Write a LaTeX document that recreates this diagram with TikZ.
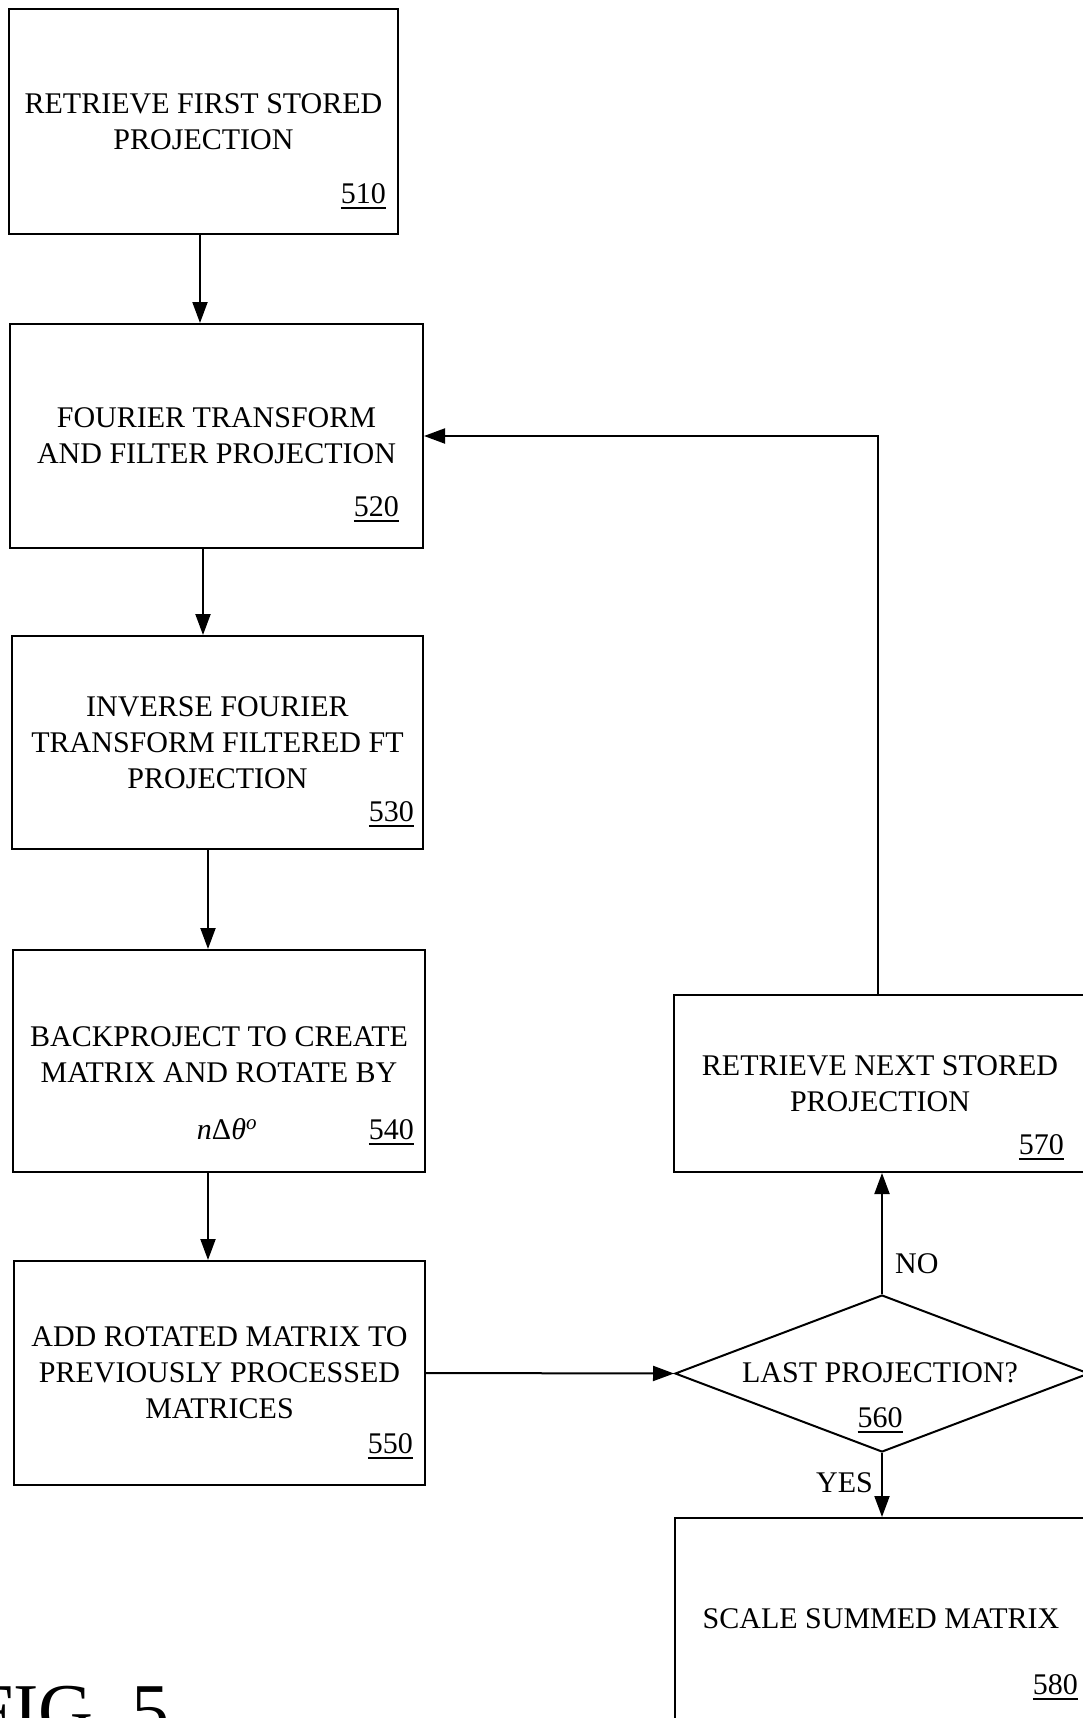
\documentclass[tikz,border=0pt]{standalone}
\usepackage{fontspec}
\setmainfont{Liberation Serif}
\usetikzlibrary{arrows.meta,shapes.geometric}
% reference number with a rule under it
\newcommand\refnum[1]{\leavevmode\vtop{\hbox{#1}\kern3.5pt\hrule height 1.8pt}}
\begin{document}
\begin{tikzpicture}[x=1pt,y=-1pt,
  every node/.style={font=\fontsize{30}{36}\selectfont},
  stepbox/.style={draw,line width=2pt,align=center,inner sep=0pt},
  decision/.style={draw,line width=2pt,diamond,inner sep=0pt},
  numlabel/.style={anchor=base east,inner sep=0pt},
  flowtext/.style={inner sep=0pt},
  arr/.style={line width=2pt,-{Triangle[length=21pt,width=15pt]}}]

\useasboundingbox (0,0) rectangle (1083,1718);
\clip (0,0) rectangle (1083,1718);

% process steps
\node[stepbox,minimum width=389pt,minimum height=225pt] (b510) at (203.5,121.5)
  {RETRIEVE FIRST STORED\\PROJECTION};
\node[stepbox,minimum width=413pt,minimum height=224pt] (b520) at (216.5,436)
  {FOURIER TRANSFORM\\AND FILTER PROJECTION};
\node[stepbox,minimum width=411pt,minimum height=213pt] (b530) at (217.5,742.5)
  {INVERSE FOURIER\\TRANSFORM FILTERED FT\\PROJECTION};
\node[stepbox,minimum width=412pt,minimum height=222pt] (b540) at (219,1061) {};
\node[flowtext,align=center] (t540) at (219,1055)
  {BACKPROJECT TO CREATE\\MATRIX AND ROTATE BY};
\node[flowtext,anchor=base] (a540) at ([xshift=8pt,yshift=34pt]b540.south)
  {\itshape n\upshape Δ\itshape θ\textsuperscript{o}};
\node[stepbox,minimum width=411pt,minimum height=224pt] (b550) at (219.5,1373)
  {ADD ROTATED MATRIX TO\\PREVIOUSLY PROCESSED\\MATRICES};
\node[stepbox,minimum width=412pt,minimum height=177pt] (b570) at (880,1083.5)
  {RETRIEVE NEXT STORED\\PROJECTION};
\node[decision,minimum width=414pt,minimum height=157pt] (d560) at (882,1373.5) {};
\node[flowtext,anchor=base] (t560) at ([xshift=-2pt,yshift=-8.5pt]d560.center)
  {LAST PROJECTION?};
\node[stepbox,minimum width=412pt,minimum height=202pt] (b580) at (881,1619)
  {SCALE SUMMED MATRIX};

% reference numbers
\node[numlabel] (n510) at ([xshift=-13pt,yshift=32pt]b510.south east) {\refnum{510}};
\node[numlabel] (n520) at ([xshift=-25pt,yshift=33pt]b520.south east) {\refnum{520}};
\node[numlabel] (n530) at ([xshift=-10pt,yshift=29pt]b530.south east) {\refnum{530}};
\node[numlabel] (n540) at ([xshift=-12pt,yshift=34pt]b540.south east) {\refnum{540}};
\node[numlabel] (n550) at ([xshift=-13pt,yshift=33pt]b550.south east) {\refnum{550}};
\node[numlabel] (n570) at ([xshift=-23pt,yshift=19pt]b570.south east) {\refnum{570}};
\node[flowtext,anchor=base] (n560) at ([xshift=-2pt,yshift=-53.5pt]d560.center) {\refnum{560}};
\node[numlabel] (n580) at ([xshift=-10pt,yshift=27pt]b580.south east) {\refnum{580}};

% connectors
\draw[arr] ([xshift=-3.5pt]b510.south) -- ([xshift=-3.5pt]b510.south |- b520.north);
\draw[arr] ([xshift=-13.5pt]b520.south) -- ([xshift=-13.5pt]b520.south |- b530.north);
\draw[arr] ([xshift=-9.5pt]b530.south) -- ([xshift=-9.5pt]b530.south |- b540.north);
\draw[arr] ([xshift=-11pt]b540.south) -- ([xshift=-11pt]b540.south |- b550.north);
\draw[arr] (b550.east) -- (d560.west);
\draw[arr] (d560.north) -- (d560.north |- b570.south);
\draw[arr] ([xshift=-2pt]b570.north) |- (b520.east);
\draw[arr] (d560.south) -- (d560.south |- b580.north);

% branch labels
\node[flowtext,anchor=base west] (lno) at (895,1273) {NO};
\node[flowtext,anchor=base east] (lyes) at (873,1492) {YES};

% figure caption
\node[inner sep=0pt,anchor=base east,font=\fontsize{76}{80}\selectfont] (fig) at (170,1736) {FIG. 5};
\end{tikzpicture}
\end{document}
